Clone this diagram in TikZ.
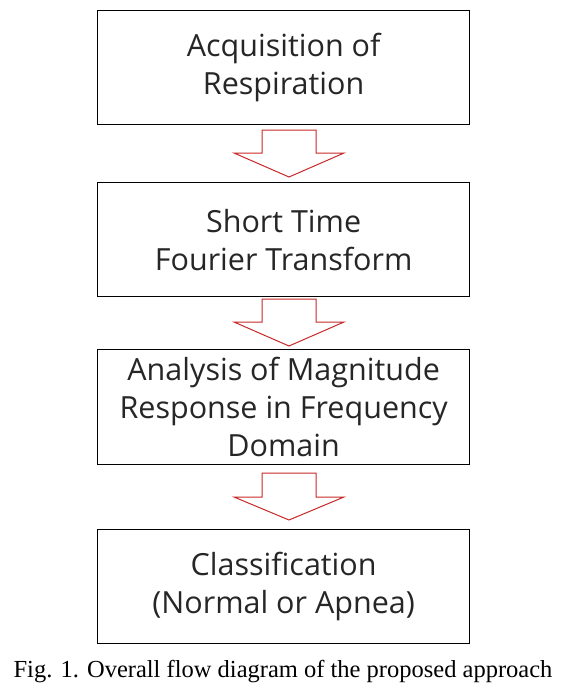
\documentclass[tikz,border=0pt]{standalone}
\usepackage{fontspec}
\setmainfont{Liberation Serif}
\newfontfamily\boxfont{Open Sans}
\definecolor{arrowred}{RGB}{200,40,40}
\begin{document}
\begin{tikzpicture}[x=1pt,y=-1pt,
  stepbox/.style={draw=black,line width=1.3pt,minimum width=372pt,minimum height=114pt,anchor=north west,inner sep=0pt,
    font=\boxfont\fontsize{30.5}{38}\selectfont,align=center,text=black!85},
  blockarrow/.style={draw=arrowred,line width=1pt,fill=white,line join=miter}]
\useasboundingbox (0,0) rectangle (575,686);
\node[stepbox] (b1) at (97,10) {Acquisition of\\Respiration};
\node[stepbox] (b2) at (97,182) {Short Time\\Fourier Transform};
\node[stepbox,minimum height=115pt] (b3) at (97,349) {Analysis of Magnitude\\Response in Frequency\\Domain};
\node[stepbox] (b4) at (97,529) {Classification\\(Normal or Apnea)};
\draw[blockarrow] (262,130) -- (316,130) -- (316,153) -- (344,153) -- (289,177) -- (234,153) -- (262,153) -- cycle;
\draw[blockarrow] (262,299) -- (316,299) -- (316,322) -- (344,322) -- (289,346) -- (234,322) -- (262,322) -- cycle;
\draw[blockarrow] (262,473) -- (316,473) -- (316,497) -- (344,497) -- (289,520) -- (234,497) -- (262,497) -- cycle;
\node[font=\fontsize{24.5}{28}\selectfont,anchor=base] (cap) at (283,677) {Fig. 1. Overall flow diagram of the proposed approach};
\end{tikzpicture}
\end{document}
